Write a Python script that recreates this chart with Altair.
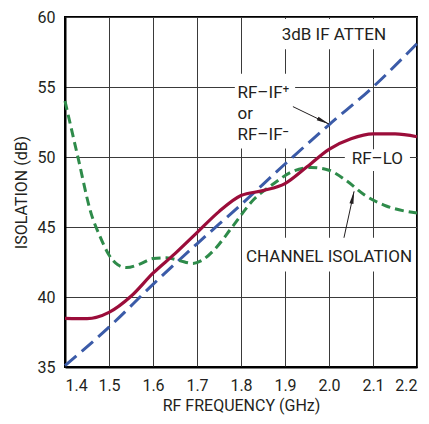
import altair as alt
import pandas as pd

FONT = "Roboto, Liberation Sans, sans-serif"
INK = "#231f20"

# RF-LO isolation (solid red)
lo_freq = [1.40, 1.45, 1.50, 1.55, 1.60, 1.65, 1.70, 1.75, 1.80, 1.85, 1.90, 1.95, 2.00, 2.05, 2.10, 2.15, 2.20]
lo_iso = [38.48, 38.45, 38.9, 40.05, 41.7, 43.1, 44.6, 46.1, 47.25, 47.6, 48.1, 49.3, 50.55, 51.3, 51.65, 51.65, 51.45]

# Channel isolation (dashed green)
ch_freq = [1.40, 1.43, 1.46, 1.48, 1.50, 1.52, 1.54, 1.57, 1.60, 1.63, 1.66, 1.69, 1.71, 1.74, 1.78, 1.83, 1.87, 1.92, 1.96, 2.00, 2.04, 2.08, 2.13, 2.17, 2.20]
ch_iso = [54.0, 49.9, 45.9, 44.3, 43.0, 42.3, 42.1, 42.35, 42.75, 42.8, 42.6, 42.4, 42.6, 43.4, 45.0, 47.0, 48.0, 49.0, 49.25, 49.05, 48.3, 47.3, 46.5, 46.15, 46.0]

# RF-IF isolation (long-dashed blue)
if_freq = [1.4, 1.5, 1.6, 1.7, 1.8, 1.9, 2.0, 2.1, 2.2]
if_iso = [35.1, 37.85, 40.9, 43.8, 46.6, 49.5, 52.3, 55.0, 58.1]

x_ticks = [1.4, 1.5, 1.6, 1.7, 1.8, 1.9, 2.0, 2.1, 2.2]
y_ticks = [35, 40, 45, 50, 55, 60]

# centred annotation texts
c_text = ["3dB IF ATTEN", "RF–LO", "CHANNEL ISOLATION"]
c_x = [2.011, 2.11, 2.0]
c_y = [58.75, 49.85, 42.85]
# left-aligned annotation texts
l_text = ["RF–IF⁺", "or", "RF–IF⁻"]
l_x = [1.792, 1.792, 1.792]
l_y = [54.55, 53.05, 51.6]

# white boxes behind labels
box_x = [1.898, 1.786, 2.036, 1.809]
box_x2 = [2.13, 1.923, 2.184, 2.189]
box_y = [57.7, 50.6, 49.0, 41.82]
box_y2 = [59.85, 55.95, 50.55, 44.23]

# arrows (start -> tip)
arr_x = [1.918, 2.034]
arr_y = [53.6, 44.23]
arr_x2 = [2.0, 2.057]
arr_y2 = [52.35, 47.55]
arr_angle = [116, 12]

xs = alt.Scale(domain=[1.4, 2.2], nice=False, zero=False)
ys = alt.Scale(domain=[35, 60], nice=False, zero=False)

lo_df = pd.DataFrame({"f": lo_freq, "v": lo_iso})
ch_df = pd.DataFrame({"f": ch_freq, "v": ch_iso})
if_df = pd.DataFrame({"f": if_freq, "v": if_iso})
c_df = pd.DataFrame({"t": c_text, "x": c_x, "y": c_y})
l_df = pd.DataFrame({"t": l_text, "x": l_x, "y": l_y})
box_df = pd.DataFrame({"x": box_x, "x2": box_x2, "y": box_y, "y2": box_y2})
arr_df = pd.DataFrame({"x": arr_x, "y": arr_y, "x2": arr_x2, "y2": arr_y2, "ang": arr_angle})

xaxis = alt.Axis(values=x_ticks, format=".1f", title="RF FREQUENCY (GHz)", ticks=False,
                 labelPadding=10, titlePadding=4, grid=True)
yaxis = alt.Axis(values=y_ticks, title="ISOLATION (dB)", ticks=False,
                 labelPadding=10, titlePadding=8, grid=True)

base_x = alt.X("f:Q", scale=xs, axis=xaxis)
base_y = alt.Y("v:Q", scale=ys, axis=yaxis)
ax = alt.X("x:Q", scale=xs, axis=xaxis)
ay = alt.Y("y:Q", scale=ys, axis=yaxis)

boxes = alt.Chart(box_df).mark_rect(color="white").encode(x=ax, x2="x2:Q", y=ay, y2="y2:Q")

if_line = alt.Chart(if_df).mark_line(color="#3b5ba8", strokeWidth=3, strokeDash=[15, 7],
                                     interpolate="monotone").encode(x=base_x, y=base_y)
ch_line = alt.Chart(ch_df).mark_line(color="#2e8b4a", strokeWidth=3, strokeDash=[9, 5],
                                     interpolate="monotone").encode(x=base_x, y=base_y)
lo_line = alt.Chart(lo_df).mark_line(color="#9b0d3a", strokeWidth=3.2,
                                     interpolate="monotone").encode(x=base_x, y=base_y)

c_texts = alt.Chart(c_df).mark_text(font=FONT, fontSize=17, color=INK, baseline="middle",
                                    align="center").encode(x=ax, y=ay, text="t:N")
l_texts = alt.Chart(l_df).mark_text(font=FONT, fontSize=17, color=INK, baseline="middle",
                                    align="left").encode(x=ax, y=ay, text="t:N")

arrows = alt.Chart(arr_df).mark_rule(color=INK, strokeWidth=1).encode(
    x=ax, y=ay, x2="x2:Q", y2="y2:Q")
heads = alt.Chart(arr_df).mark_point(shape="M0,0L0.32,2L-0.32,2Z", filled=True, color=INK,
                                     size=160, opacity=1).encode(
    x=alt.X("x2:Q", scale=xs, axis=xaxis), y=alt.Y("y2:Q", scale=ys, axis=yaxis),
    angle=alt.Angle("ang:Q", scale=None))

chart = alt.layer(boxes, if_line, ch_line, lo_line, c_texts, l_texts, arrows, heads).properties(
    width=352, height=350,
    autosize=alt.AutoSizeParams(type="none"),
    padding={"left": 57, "top": 9, "right": 4, "bottom": 49},
).configure_view(stroke="black", strokeWidth=2).configure_axis(
    labelFont=FONT, labelFontSize=16, labelColor=INK,
    titleFont=FONT, titleFontSize=16, titleColor=INK, titleFontWeight="normal",
    gridColor="#3a3a3a", gridWidth=1, gridOpacity=1,
    domainColor="black", domainWidth=2,
)

chart.save("out.html", embed_options={"renderer": "svg", "actions": False})
